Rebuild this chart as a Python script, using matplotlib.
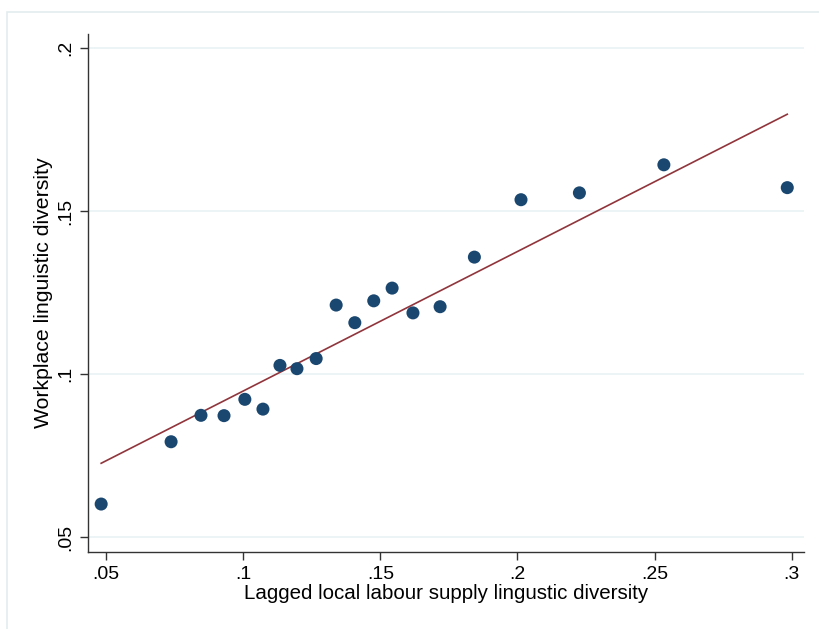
import matplotlib
matplotlib.use("Agg")
import matplotlib.pyplot as plt
from matplotlib.patches import Rectangle

plt.rcParams['font.family'] = ['Liberation Sans', 'DejaVu Sans']

x_vals = [0.0482, 0.0737, 0.0846, 0.0930, 0.1006, 0.1072, 0.1134, 0.1196, 0.1266, 0.1339,
          0.1407, 0.1476, 0.1543, 0.1619, 0.1718, 0.1843, 0.2013, 0.2226, 0.2534, 0.2984]
y_vals = [0.0602, 0.0793, 0.0874, 0.0873, 0.0923, 0.0893, 0.1027, 0.1017, 0.1048, 0.1212,
          0.1158, 0.1225, 0.1264, 0.1188, 0.1207, 0.1359, 0.1535, 0.1556, 0.1642, 0.1572]
fit_x = [0.0482, 0.2984]
fit_y = [0.0727, 0.1797]

x_ticks = [0.05, 0.1, 0.15, 0.2, 0.25, 0.3]
x_ticklabels = ['.05', '.1', '.15', '.2', '.25', '.3']
y_ticks = [0.05, 0.1, 0.15, 0.2]
y_ticklabels = ['.05', '.1', '.15', '.2']

W, H = 819, 629
fig = plt.figure(figsize=(W / 100, H / 100), dpi=100)
fig.patch.set_facecolor('white')

# outer graph-region border
fig.add_artist(Rectangle((7 / W, -0.1), 1.2, 1 - 12 / H + 0.1, transform=fig.transFigure,
                         fill=False, edgecolor='#e4ecee', linewidth=1.2))

ax = fig.add_axes([88 / W, 1 - 552 / H, (804 - 88) / W, (552 - 34) / H])
ax.set_xlim(0.0434, 0.3045)
ax.set_ylim(0.0455, 0.2043)

for yt in y_ticks:
    ax.axhline(yt, color='#eaf2f3', linewidth=1.2, zorder=0)

ax.plot(fit_x, fit_y, color='#90353b', linewidth=1.2, zorder=2)
ax.scatter(x_vals, y_vals, s=88, color='#1a476f', edgecolors='none', zorder=3)

ax.set_xticks(x_ticks)
ax.set_xticklabels(x_ticklabels)
ax.set_yticks(y_ticks)
ax.set_yticklabels(y_ticklabels, rotation=90, va='center')

for s in ['top', 'right']:
    ax.spines[s].set_visible(False)
for s in ['left', 'bottom']:
    ax.spines[s].set_color('#333333')
    ax.spines[s].set_linewidth(1.0)

ax.tick_params(axis='both', direction='out', length=5.8, width=1.0, color='#333333',
               labelsize=14, labelcolor='black')
ax.tick_params(axis='x', pad=4)
ax.tick_params(axis='y', pad=4)

ax.set_xlabel('Lagged local labour supply lingustic diversity', fontsize=14.8, labelpad=1)
ax.set_ylabel('Workplace linguistic diversity', fontsize=15.3, labelpad=3)

fig.savefig('out.png', dpi=100)
